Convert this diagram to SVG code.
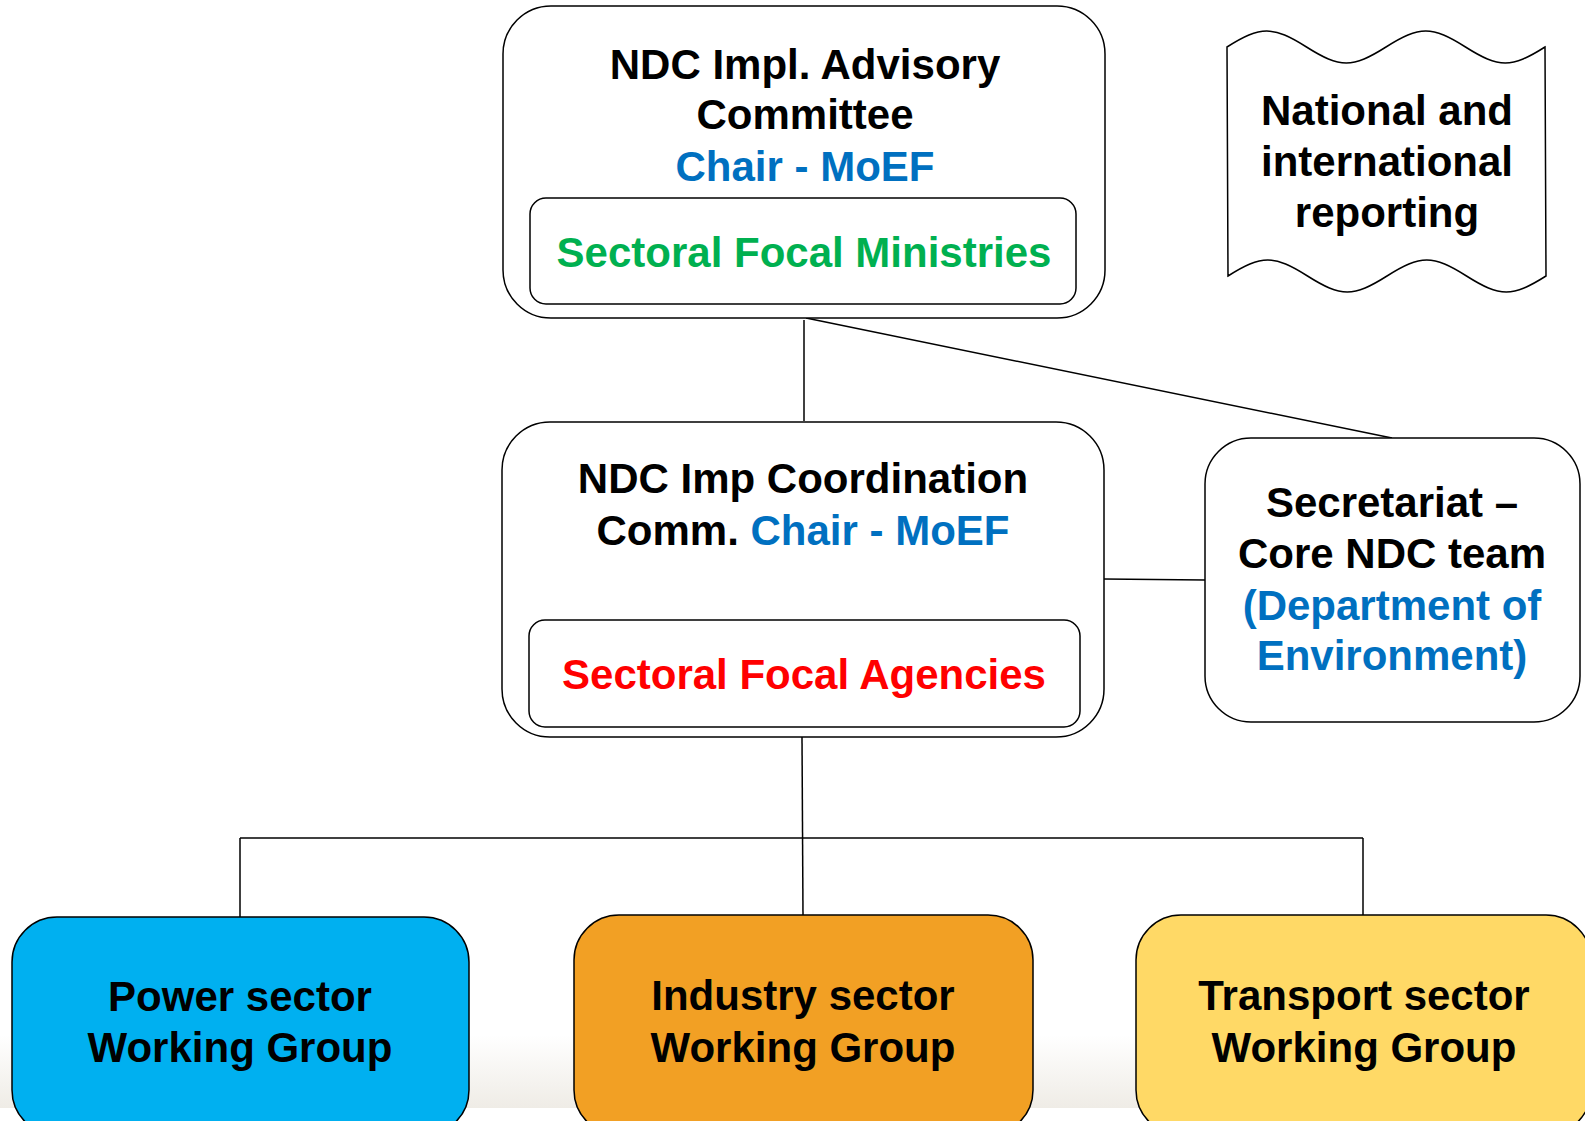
<svg xmlns="http://www.w3.org/2000/svg" width="1585" height="1121" viewBox="0 0 1585 1121">
  <defs>
    <linearGradient id="band" x1="0" y1="0" x2="0" y2="1">
      <stop offset="0" stop-color="#FFFFFF"/>
      <stop offset="1" stop-color="#EFECE6"/>
    </linearGradient>
  </defs>
  <style>
    text { font-family: "Liberation Sans", Arial, sans-serif; font-weight: bold; font-size: 42px; text-anchor: middle; fill: #000; }
    .box { fill: #FFFFFF; stroke: #000; stroke-width: 1.5; }
    .inner { fill: #FFFFFF; stroke: #000; stroke-width: 1.5; }
    .blue { fill: #0070C0; }
    .green { fill: #00B050; }
    .red { fill: #FF0000; }
    .conn line { stroke: #000; stroke-width: 1.5; }
  </style>
  <rect x="0" y="0" width="1585" height="1121" fill="#FFFFFF"/>
  <rect x="0" y="1035" width="1585" height="73" fill="url(#band)"/>

  <g id="connectors" class="conn">
    <line x1="804" y1="320" x2="804" y2="421"/>
    <line x1="806" y1="318" x2="1392" y2="438"/>
    <line x1="1104" y1="579" x2="1205" y2="580"/>
    <line x1="802" y1="737" x2="803" y2="916"/>
    <line x1="240" y1="838" x2="1363" y2="838"/>
    <line x1="240" y1="838" x2="240" y2="917"/>
    <line x1="1363" y1="838" x2="1363" y2="915"/>
  </g>

  <g id="advisory-committee">
    <rect class="box" x="503" y="6" width="602" height="312" rx="48" ry="48"/>
    <text x="805" y="79">NDC Impl. Advisory</text>
    <text x="805" y="129">Committee</text>
    <text x="805" y="181" class="blue">Chair - MoEF</text>
    <rect class="inner" x="530" y="198" width="546" height="106" rx="16" ry="16"/>
    <text x="804" y="267" class="green">Sectoral Focal Ministries</text>
  </g>

  <g id="reporting">
    <path class="box" d="M1227,47 c33.7,-21.3 45.8,-21.3 79.5,0 s45.8,21.3 79.5,0 s45.8,-21.3 79.5,0 s45.8,21.3 79.5,0 L1546,276 c-33.7,21.3 -45.8,21.3 -79.5,0 s-45.8,-21.3 -79.5,0 s-45.8,21.3 -79.5,0 s-45.8,-21.3 -79.5,0 Z"/>
    <text x="1387" y="125">National and</text>
    <text x="1387" y="176">international</text>
    <text x="1387" y="227">reporting</text>
  </g>

  <g id="coordination-committee">
    <rect class="box" x="502" y="422" width="602" height="315" rx="48" ry="48"/>
    <text x="803" y="493">NDC Imp Coordination</text>
    <text x="803" y="545">Comm. <tspan class="blue">Chair - MoEF</tspan></text>
    <rect class="inner" x="529" y="620" width="551" height="107" rx="16" ry="16"/>
    <text x="804" y="689" class="red">Sectoral Focal Agencies</text>
  </g>

  <g id="secretariat">
    <rect class="box" x="1205" y="438" width="375" height="284" rx="46" ry="46"/>
    <text x="1392" y="517">Secretariat –</text>
    <text x="1392" y="568">Core NDC team</text>
    <text x="1392" y="620" class="blue">(Department of</text>
    <text x="1392" y="670" class="blue">Environment)</text>
  </g>

  <g id="power-wg">
    <rect x="12" y="917" width="457" height="218" rx="45" ry="45" fill="#00B0F0" stroke="#000" stroke-width="1.5"/>
    <text x="240" y="1011">Power sector</text>
    <text x="240" y="1062">Working Group</text>
  </g>

  <g id="industry-wg">
    <rect x="574" y="915" width="459" height="220" rx="45" ry="45" fill="#F2A024" stroke="#000" stroke-width="1.5"/>
    <text x="803" y="1010">Industry sector</text>
    <text x="803" y="1062">Working Group</text>
  </g>

  <g id="transport-wg">
    <rect x="1136" y="915" width="455" height="220" rx="45" ry="45" fill="#FFD966" stroke="#000" stroke-width="1.5"/>
    <text x="1364" y="1010">Transport sector</text>
    <text x="1364" y="1062">Working Group</text>
  </g>
</svg>
